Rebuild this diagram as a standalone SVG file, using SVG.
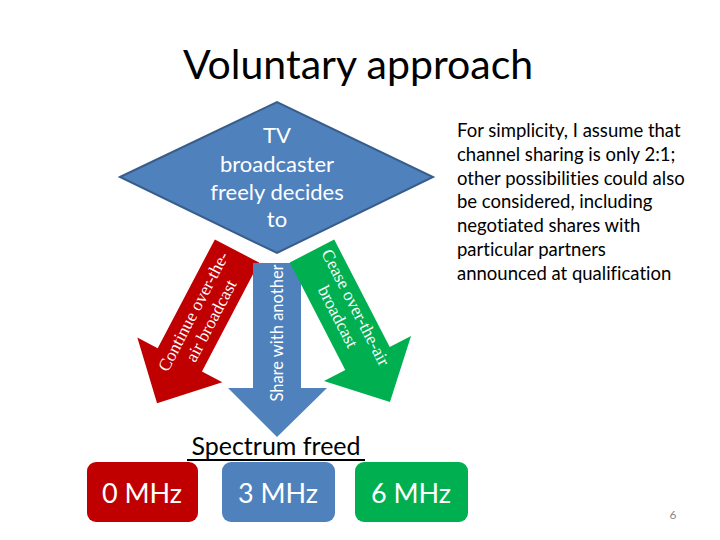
<svg xmlns="http://www.w3.org/2000/svg" width="720" height="540" viewBox="0 0 720 540">
<style>
.sans{font-family:Lato,"Liberation Sans",sans-serif;font-variant-ligatures:none;font-feature-settings:"liga" 0}
.serif{font-family:"Liberation Serif",serif}
.w{fill:#ffffff}
.k{fill:#000000}
</style>
<rect width="720" height="540" fill="#ffffff"/>
<text class="sans k" x="358" y="79" font-size="41" text-anchor="middle">Voluntary approach</text>

<g id="connectors">
  <g id="arrow-continue">
    <path d="M-25,0 L25,0 L25,123 L48,123 L0,172 L-48,123 L-25,123 Z" fill="#c00000" transform="translate(237,251) rotate(27.7)"/>
    <g transform="translate(202,316) rotate(-62.3)" class="serif w" font-size="17.5" text-anchor="middle">
      <text x="0" y="-4">Continue over-the-</text>
      <text x="0" y="16">air broadcast</text>
    </g>
  </g>
  <g id="arrow-share">
    <polygon points="253,263 301,263 301,388 327,388 277,437 228,388 253,388" fill="#4f81bd"/>
    <text class="sans w" font-size="16.5" text-anchor="middle" transform="translate(283,333) rotate(-90)">Share with another</text>
  </g>
  <g id="arrow-cease">
    <path d="M-25,0 L25,0 L25,121 L49,121 L0,170 L-49,121 L-25,121 Z" fill="#00b050" transform="translate(312,251) rotate(-27.3)"/>
    <g transform="translate(347,312) rotate(62.7)" class="serif w" font-size="17.5" text-anchor="middle">
      <text x="0" y="-4">Cease over-the-air</text>
      <text x="0" y="16">broadcast</text>
    </g>
  </g>
</g>

<g id="decision">
  <polygon points="120,177 277,102 433,177 277,253" fill="#4f81bd" stroke="#385d8a" stroke-width="2"/>
  <g class="sans w" font-size="22" text-anchor="middle">
    <text x="277" y="143">TV</text>
    <text x="277" y="172">broadcaster</text>
    <text x="277" y="200">freely decides</text>
    <text x="277" y="227">to</text>
  </g>
</g>

<g id="note" class="sans k" font-size="18.5">
  <text x="457" y="137">For simplicity, I assume that</text>
  <text x="457" y="161">channel sharing is only 2:1;</text>
  <text x="457" y="185">other possibilities could also</text>
  <text x="457" y="208">be considered, including</text>
  <text x="457" y="232">negotiated shares with</text>
  <text x="457" y="256">particular partners</text>
  <text x="457" y="280">announced at qualification</text>
</g>

<g id="spectrum-label">
  <text class="sans k" x="276" y="455" font-size="25" text-anchor="middle">Spectrum freed</text>
  <rect x="187" y="459" width="178" height="2" fill="#000000"/>
</g>

<g id="box-0">
  <rect x="87" y="462" width="111" height="60" rx="9" fill="#c00000"/>
  <text class="sans w" x="142" y="503" font-size="27" text-anchor="middle">0 MHz</text>
</g>
<g id="box-3">
  <rect x="222" y="462" width="113" height="60" rx="9" fill="#4f81bd"/>
  <text class="sans w" x="278" y="503" font-size="27" text-anchor="middle">3 MHz</text>
</g>
<g id="box-6">
  <rect x="355" y="462" width="113" height="60" rx="9" fill="#00b050"/>
  <text class="sans w" x="411" y="503" font-size="27" text-anchor="middle">6 MHz</text>
</g>

<text class="sans" x="673" y="519" font-size="12" fill="#888888" text-anchor="middle">6</text>
</svg>
